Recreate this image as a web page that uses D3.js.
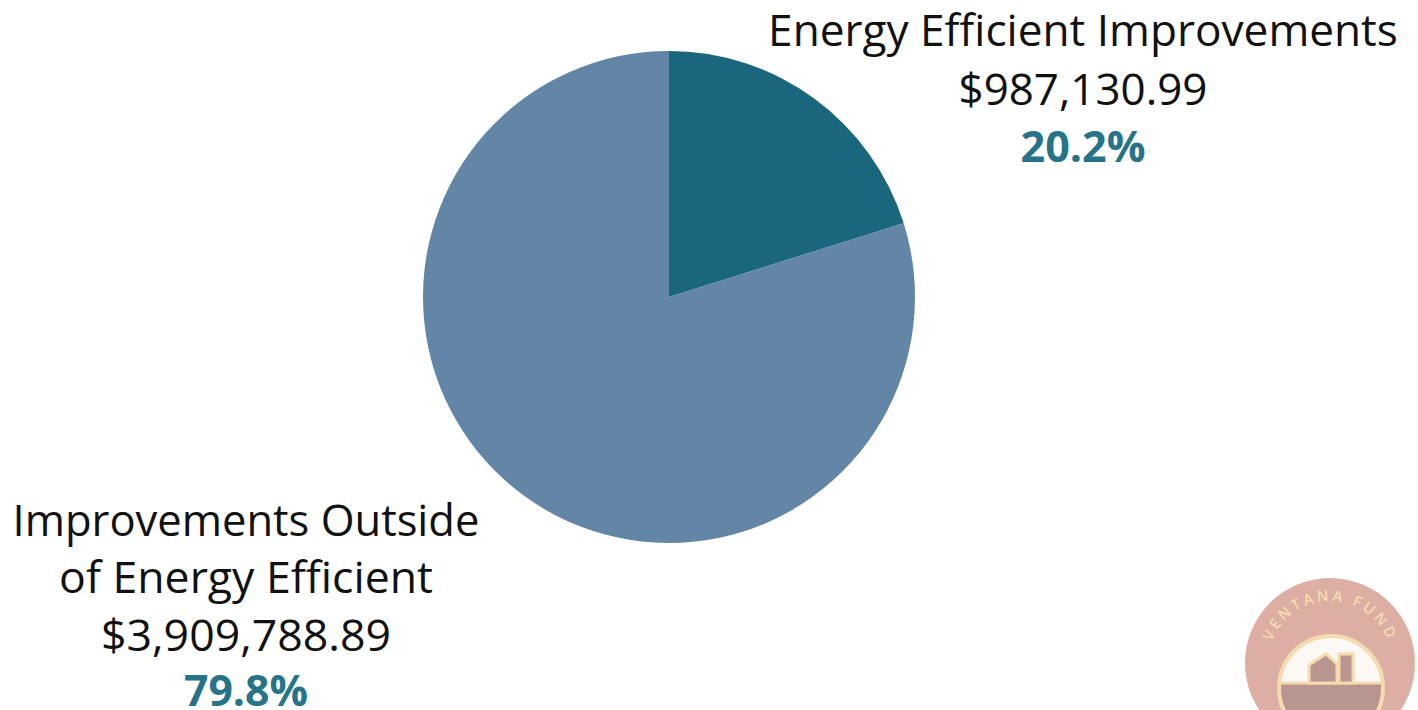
<!DOCTYPE html>
<html>
<head>
<meta charset="utf-8">
<script src="https://cdn.jsdelivr.net/npm/d3@7"></script>
<style>
  html, body { margin: 0; padding: 0; background: #ffffff; }
  svg { display: block; }
</style>
</head>
<body>
<svg id="chart" width="1418" height="710"></svg>
<script>
// ---- data ----
const categories = ["Energy Efficient Improvements", "Improvements Outside of Energy Efficient"];
const labelLines = [["Energy Efficient Improvements"], ["Improvements Outside", "of Energy Efficient"]];
const values = [987130.99, 3909788.89];
const colors = ["#1a677d", "#6386a6"];

// ---- layout ----
const cx = 669, cy = 297, R = 246;
const svg = d3.select("#chart");

const pie = d3.pie().sort(null).value(d => d)(values);
const arc = d3.arc().innerRadius(0).outerRadius(R);
const total = d3.sum(values);
const fmtMoney = v => "$" + d3.format(",.2f")(v);
const fmtPct = v => d3.format(".1f")(v / total * 100) + "%";

svg.append("g").attr("transform", `translate(${cx},${cy})`)
  .selectAll("path").data(pie).join("path")
  .attr("d", arc).attr("fill", (d, i) => colors[i]);

function fitText(sel, targetW) {
  const node = sel.node();
  const fs = parseFloat(sel.attr("font-size"));
  const w = node.getComputedTextLength();
  if (w > 0) sel.attr("font-size", fs * targetW / w);
}

const blocks = [
  { x: 1083, ys: [46, 105, 162], widths: [630, 249, 125] },
  { x: 246, ys: [536, 593, 651, 706], widths: [467, 374, 290, 124] }
];

values.forEach((v, i) => {
  const b = blocks[i];
  const lines = labelLines[i].map(t => ({ t, bold: false }))
    .concat([{ t: fmtMoney(v), bold: false }, { t: fmtPct(v), bold: true }]);
  lines.forEach((ln, j) => {
    const t = svg.append("text")
      .attr("x", b.x).attr("y", b.ys[j])
      .attr("text-anchor", "middle")
      .attr("font-family", "'Open Sans', sans-serif")
      .attr("font-size", 42)
      .attr("font-weight", ln.bold ? 700 : 400)
      .attr("fill", ln.bold ? "#277489" : "#111111")
      .text(ln.t);
    fitText(t, b.widths[j]);
  });
});

// ---- logo (bottom-right, partially cropped) ----
const ring = "#dcaea4", cream = "#f5dcb0", ground = "#b9958f", paper = "#fcf8f4";
const lg = svg.append("g").attr("transform", "translate(1330,663)");
lg.append("circle").attr("r", 85).attr("fill", ring);
const ar = 62, aa = 1.5;
lg.append("path").attr("id", "logoArc").attr("fill", "none")
  .attr("d", `M ${-ar * Math.sin(aa)} ${-ar * Math.cos(aa)} A ${ar} ${ar} 0 0 1 ${ar * Math.sin(aa)} ${-ar * Math.cos(aa)}`);
lg.append("text").attr("font-family", "'Open Sans', sans-serif").attr("font-size", 15)
  .attr("font-weight", 600).attr("fill", cream).attr("letter-spacing", 3)
  .append("textPath").attr("href", "#logoArc").attr("startOffset", "50%").attr("text-anchor", "middle")
  .text("VENTANA FUND");
const ig = lg.append("g").attr("transform", "translate(1,25)");
ig.append("clipPath").attr("id", "logoClip").append("circle").attr("r", 52);
ig.append("circle").attr("r", 52).attr("fill", paper);
const inner = ig.append("g").attr("clip-path", "url(#logoClip)");
inner.append("rect").attr("x", -60).attr("y", -5).attr("width", 120).attr("height", 70).attr("fill", ground);
inner.append("line").attr("x1", -60).attr("x2", 60).attr("y1", -5).attr("y2", -5).attr("stroke", cream).attr("stroke-width", 3);
inner.append("path").attr("d", "M -22 -5 L -22 -23 L -5 -34 L 6 -24 L 6 -5 Z")
  .attr("fill", ground).attr("stroke", cream).attr("stroke-width", 3);
inner.append("rect").attr("x", 8).attr("y", -34).attr("width", 14).attr("height", 29)
  .attr("fill", ground).attr("stroke", cream).attr("stroke-width", 3);
ig.append("circle").attr("r", 52).attr("fill", "none").attr("stroke", cream).attr("stroke-width", 4);
</script>
</body>
</html>
